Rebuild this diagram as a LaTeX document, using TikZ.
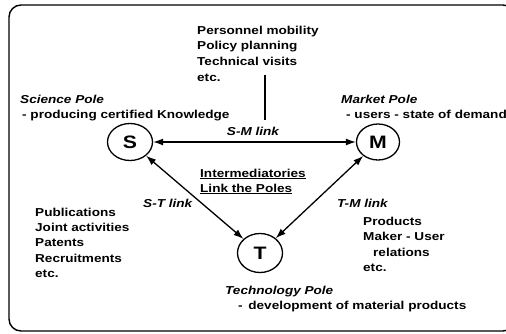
\documentclass[tikz,border=0pt]{standalone}
\usepackage{fontspec}
\setmainfont{Liberation Sans}[FakeStretch=1.18]
\usetikzlibrary{shapes.geometric,arrows.meta}

\tikzset{
  pole/.style={ellipse,draw,line width=1.3pt,minimum width=45pt,minimum height=37pt,inner sep=0pt,font=\fontsize{18}{18}\selectfont\bfseries},
  txt/.style={anchor=north west,inner sep=0pt,align=left,font=\fontsize{11.5}{15.7}\selectfont\bfseries},
  lnk/.style={anchor=base west,inner sep=0pt,font=\fontsize{11.5}{14}\selectfont\bfseries\itshape},
  poleline/.style={{Latex[length=10pt,width=7pt]}-{Latex[length=10pt,width=7pt]},line width=1.3pt}
}

\begin{document}
\begin{tikzpicture}[x=1pt,y=-1pt]
\useasboundingbox (0,0) rectangle (506,333);

% Frame
\draw[line width=1.4pt,rounded corners=12pt] (9,5) rectangle (515,331);

% Poles
\node[pole] (S) at (130,142) {S};
\node[pole,minimum width=43pt,minimum height=36pt] (M) at (378,142) {M};
\node[pole,minimum height=39pt] (T) at (260,253) {T};

% Links
\draw[poleline] (S) -- (M);
\draw[poleline] (S) -- (T);
\draw[poleline] (M) -- (T);

% S-M link activities
\node[txt] (smtext) at (197,25.5) {Personnel mobility\\Policy planning\\Technical visits\\etc.};
\coordinate (smtop) at (265,75);
\coordinate (smbot) at (265,120);
\draw[line width=1.3pt] (smtop) -- (smbot);

% Pole labels
\node[txt] (spole) at (20,94.5) {\textit{Science Pole}\\\hspace*{2pt}- producing certified Knowledge};
\node[txt] (mpole) at (341,94.5) {\textit{Market Pole}\\\hspace*{5pt}- users - state of demand};
\node[txt] (tpole) at (225,285.5) {\textit{Technology Pole}\\\hspace*{13pt}- \,development of material products};

% Link labels
\node[lnk,anchor=base] (smlab) at (253,135) {S-M link};
\node[lnk] (stlab) at (143,207) {S-T link};
\node[lnk] (tmlab) at (337,207) {T-M link};

% Middle
\node[txt,font=\fontsize{11.5}{15}\selectfont\bfseries] (mid) at (200,168.5) {\underline{Intermediatories}\\\underline{Link the Poles}};

% S-T and T-M link activities
\node[txt,font=\fontsize{11.5}{15.4}\selectfont\bfseries] (sttext) at (35,207.5) {Publications\\Joint activities\\Patents\\Recruitments\\etc.};
\node[txt,font=\fontsize{11.5}{15.6}\selectfont\bfseries] (tmtext) at (363,216.5) {Products\\Maker - User\\\hspace*{10pt}relations\\etc.};
\end{tikzpicture}
\end{document}
